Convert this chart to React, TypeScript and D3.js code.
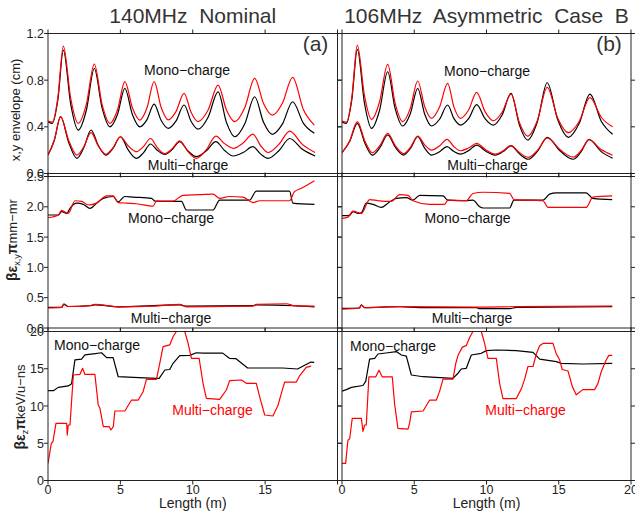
import React from 'react';
import * as d3 from 'd3';

type Pt = [number, number];

// ---------- axis ticks ----------
const lengthTicks = [0, 5, 10, 15, 20];
const envelopeTicks = [0, 0.4, 0.8, 1.2];
const transTicks = [0, 0.5, 1.0, 1.5, 2.0, 2.5];
const longTicks = [0, 5, 10, 15, 20];

const titles = ['140MHz  Nominal', '106MHz  Asymmetric  Case  B'];
const tags = ['(a)', '(b)'];

// ---------- x,y envelope (cm) vs length (m) ----------
const envMonoBlackA: Pt[] = [
  [0, 0.444], [0.3, 0.43], [0.68, 0.63], [1.06, 1.058], [1.575, 0.59], [2.09, 0.372], [2.645, 0.54], [3.2, 0.9],
  [3.74, 0.56], [4.28, 0.4], [4.8, 0.506], [5.31, 0.73], [5.83, 0.506], [6.34, 0.4], [6.84, 0.462], [7.33, 0.595],
  [7.82, 0.454], [8.3, 0.387], [8.85, 0.451], [9.4, 0.587], [9.89, 0.446], [10.37, 0.38], [11.06, 0.482], [11.75, 0.7],
  [12.33, 0.438], [12.9, 0.315], [13.59, 0.425], [14.28, 0.658], [14.89, 0.439], [15.5, 0.336], [16.2, 0.425],
  [16.9, 0.615], [17.65, 0.43], [18.4, 0.344],
];
const envMonoRedA: Pt[] = [
  [0, 0.45], [0.3, 0.44], [0.68, 0.65], [1.06, 1.092], [1.575, 0.64], [2.09, 0.43], [2.645, 0.59], [3.2, 0.938],
  [3.74, 0.59], [4.28, 0.43], [4.8, 0.544], [5.31, 0.787], [5.83, 0.563], [6.34, 0.458], [6.84, 0.563], [7.33, 0.787],
  [7.82, 0.565], [8.3, 0.46], [8.85, 0.533], [9.4, 0.687], [9.89, 0.522], [10.37, 0.444], [11.06, 0.544], [11.75, 0.758],
  [12.33, 0.544], [12.9, 0.444], [13.59, 0.563], [14.28, 0.815], [14.89, 0.6], [15.5, 0.5], [16.2, 0.604],
  [16.9, 0.824], [17.65, 0.546], [18.4, 0.415],
];
const envMultiBlackA: Pt[] = [
  [0, 0.158], [0.43, 0.283], [0.87, 0.487], [1.43, 0.266], [2.0, 0.13], [2.48, 0.222], [2.97, 0.373], [3.48, 0.24],
  [4.0, 0.158], [4.5, 0.218], [5.0, 0.315], [5.55, 0.2], [6.1, 0.13], [6.59, 0.177], [7.08, 0.253], [7.57, 0.197],
  [8.07, 0.163], [8.58, 0.205], [9.1, 0.273], [9.67, 0.193], [10.25, 0.144], [10.92, 0.193], [11.6, 0.273],
  [12.2, 0.197], [12.8, 0.15], [13.48, 0.18], [14.16, 0.23], [14.68, 0.168], [15.2, 0.13], [15.95, 0.195],
  [16.7, 0.3], [17.57, 0.207], [18.45, 0.15],
];
const envMultiRedA: Pt[] = [
  [0, 0.158], [0.43, 0.283], [0.87, 0.487], [1.43, 0.283], [2.0, 0.158], [2.48, 0.231], [2.97, 0.35], [3.48, 0.235],
  [4.0, 0.165], [4.5, 0.222], [5.0, 0.315], [5.55, 0.236], [6.1, 0.187], [6.59, 0.23], [7.08, 0.3], [7.57, 0.219],
  [8.07, 0.17], [8.58, 0.212], [9.1, 0.28], [9.67, 0.187], [10.25, 0.13], [10.92, 0.202], [11.6, 0.32],
  [12.2, 0.256], [12.8, 0.216], [13.48, 0.262], [14.16, 0.338], [14.68, 0.24], [15.2, 0.18], [15.95, 0.25],
  [16.7, 0.364], [17.57, 0.25], [18.45, 0.18],
];
const envMonoBlackB: Pt[] = [
  [0, 0.444], [0.3, 0.43], [0.68, 0.633], [1.06, 1.064], [1.555, 0.604], [2.05, 0.387], [2.6, 0.542], [3.16, 0.872],
  [3.68, 0.556], [4.2, 0.407], [4.72, 0.51], [5.24, 0.73], [5.72, 0.51], [6.2, 0.407], [6.75, 0.465], [7.31, 0.587],
  [7.75, 0.47], [8.2, 0.415], [8.76, 0.47], [9.32, 0.59], [9.9, 0.471], [10.47, 0.415], [11.08, 0.502], [11.7, 0.687],
  [12.28, 0.415], [12.85, 0.287], [13.52, 0.444], [14.2, 0.778], [14.93, 0.46], [15.67, 0.31], [16.41, 0.428],
  [17.16, 0.68], [17.95, 0.446], [18.73, 0.336],
];
const envMonoRedB: Pt[] = [
  [0, 0.45], [0.3, 0.44], [0.68, 0.651], [1.06, 1.1], [1.555, 0.667], [2.05, 0.464], [2.6, 0.615], [3.16, 0.936],
  [3.68, 0.601], [4.2, 0.444], [4.72, 0.556], [5.24, 0.793], [5.72, 0.575], [6.2, 0.473], [6.75, 0.569], [7.31, 0.773],
  [7.75, 0.569], [8.2, 0.473], [8.76, 0.544], [9.32, 0.696], [9.9, 0.53], [10.47, 0.452], [11.08, 0.525], [11.7, 0.68],
  [12.28, 0.435], [12.85, 0.32], [13.52, 0.454], [14.2, 0.738], [14.93, 0.474], [15.67, 0.35], [16.41, 0.446],
  [17.16, 0.65], [17.95, 0.48], [18.73, 0.4],
];
const envMultiBlackB: Pt[] = [
  [0, 0.178], [0.53, 0.274], [1.06, 0.43], [1.58, 0.261], [2.1, 0.158], [2.63, 0.223], [3.16, 0.33], [3.7, 0.223],
  [4.25, 0.158], [4.75, 0.218], [5.24, 0.315], [5.72, 0.218], [6.2, 0.158], [6.73, 0.185], [7.27, 0.23], [7.73, 0.19],
  [8.2, 0.166], [8.76, 0.196], [9.32, 0.244], [9.96, 0.191], [10.6, 0.158], [11.15, 0.188], [11.7, 0.237],
  [12.3, 0.166], [12.9, 0.122], [13.55, 0.193], [14.2, 0.31], [15.1, 0.193], [16.0, 0.122], [16.55, 0.187],
  [17.1, 0.293], [17.9, 0.192], [18.73, 0.13],
];
const envMultiRedB: Pt[] = [
  [0, 0.178], [0.53, 0.279], [1.06, 0.444], [1.58, 0.279], [2.1, 0.178], [2.63, 0.241], [3.16, 0.344], [3.7, 0.236],
  [4.25, 0.17], [4.75, 0.227], [5.24, 0.32], [5.72, 0.246], [6.2, 0.2], [6.73, 0.235], [7.27, 0.293], [7.73, 0.232],
  [8.2, 0.195], [8.76, 0.219], [9.32, 0.258], [9.96, 0.201], [10.6, 0.166], [11.15, 0.194], [11.7, 0.24],
  [12.3, 0.177], [12.9, 0.139], [13.55, 0.202], [14.2, 0.305], [15.1, 0.203], [16.0, 0.14], [16.55, 0.197],
  [17.1, 0.29], [17.9, 0.207], [18.73, 0.156],
];

// ---------- transverse emittance (pi mm-mr) ----------
const transMonoBlackA: Pt[] = [
  [0, 1.865], [0.71, 1.865], [0.94, 1.92], [1.29, 1.89], [1.52, 1.975], [1.98, 2.06], [2.44, 2.04], [2.9, 1.975],
  [3.36, 2.06], [3.82, 2.14], [4.5, 2.17], [4.85, 2.08], [5.3, 2.17], [5.89, 2.16], [7.15, 2.14], [7.38, 2.095],
  [8.53, 2.09], [9.22, 2.09], [9.56, 1.947], [11.4, 1.947], [11.86, 2.11], [13.93, 2.11], [14.39, 2.26],
  [16.69, 2.26], [16.92, 2.06], [18.41, 2.04],
];
const transMonoRedA: Pt[] = [
  [0, 1.82], [0.71, 1.865], [0.94, 1.94], [1.4, 1.89], [1.86, 2.1], [2.32, 2.09], [2.78, 2.03], [3.36, 2.06],
  [4.05, 2.18], [4.5, 2.18], [4.85, 2.07], [5.43, 2.06], [6.12, 2.05], [7.26, 2.01], [7.49, 2.095], [8.64, 2.095],
  [9.33, 2.19], [10.48, 2.2], [11.4, 2.21], [11.86, 2.14], [12.55, 2.17], [13.47, 2.16], [14.16, 2.07],
  [14.62, 2.1], [16.69, 2.1], [17.03, 2.25], [17.5, 2.305], [18.41, 2.43],
];
const transMultiBlackA: Pt[] = [
  [0, 0.34], [0.94, 0.34], [1.1, 0.39], [1.4, 0.355], [2.9, 0.37], [3.24, 0.38], [4.98, 0.35], [7.26, 0.37],
  [9.1, 0.38], [9.56, 0.36], [14.16, 0.37], [14.39, 0.38], [16.92, 0.37], [18.41, 0.35],
];
const transMultiRedA: Pt[] = [
  [0, 0.33], [0.94, 0.34], [1.1, 0.4], [1.4, 0.355], [2.9, 0.37], [3.24, 0.39], [4.98, 0.35], [7.26, 0.36],
  [9.1, 0.39], [9.56, 0.35], [14.16, 0.36], [14.39, 0.39], [16.5, 0.4], [16.92, 0.37], [18.41, 0.36],
];
const transMonoBlackB: Pt[] = [
  [0, 1.853], [0.53, 1.86], [0.76, 1.92], [1.11, 1.89], [1.34, 1.9], [1.68, 2.06], [2.15, 2.04], [2.72, 1.99],
  [3.18, 2.06], [3.76, 2.14], [4.45, 2.15], [4.91, 2.11], [5.38, 2.19], [6.99, 2.18], [7.33, 2.11], [8.6, 2.1],
  [9.06, 2.11], [9.53, 2.0], [9.76, 1.98], [11.6, 1.98], [11.9, 2.11], [13.9, 2.11], [14.37, 2.21], [14.83, 2.23],
  [16.9, 2.23], [17.36, 2.14], [18.7, 2.12],
];
const transMonoRedB: Pt[] = [
  [0, 1.81], [0.41, 1.83], [0.76, 1.93], [1.34, 1.89], [1.91, 2.12], [2.49, 2.1], [2.95, 2.09], [3.41, 2.09],
  [3.99, 2.2], [4.57, 2.19], [4.91, 2.1], [6.07, 2.04], [7.1, 2.04], [7.33, 2.11], [8.6, 2.1], [9.06, 2.22],
  [9.76, 2.24], [11.6, 2.22], [11.9, 2.12], [13.9, 2.1], [14.26, 1.99], [16.9, 1.99], [17.36, 2.16], [18.7, 2.18],
];
const transMultiBlackB: Pt[] = [
  [0, 0.325], [1.2, 0.33], [1.34, 0.38], [1.57, 0.336], [4.0, 0.352], [5.4, 0.336], [9.3, 0.336], [9.53, 0.32],
  [11.6, 0.32], [12.1, 0.34], [18.7, 0.352],
];
const transMultiRedB: Pt[] = [
  [0, 0.31], [1.2, 0.33], [1.34, 0.375], [1.57, 0.336], [4.0, 0.352], [9.3, 0.345], [12.1, 0.352], [18.7, 0.363],
];

// ---------- longitudinal emittance (pi keV/u-ns) ----------
const longMonoA: Pt[] = [
  [0, 12.06], [0.37, 12.06], [0.71, 12.5], [1.4, 12.7], [1.63, 13.0], [1.86, 16.2], [2.32, 16.3], [2.55, 16.85],
  [3.13, 17.0], [3.7, 17.15], [4.05, 16.5], [4.5, 16.5], [4.85, 13.93], [5.89, 13.85], [7.49, 13.7], [7.68, 13.7],
  [8.07, 14.83], [8.41, 14.9], [8.64, 15.73], [9.1, 16.75], [9.79, 16.8], [10.25, 17.15], [10.71, 17.1],
  [12.07, 17.1], [12.53, 16.4], [12.99, 16.35], [13.79, 15.1], [15.06, 15.1], [16.2, 15.1], [17.24, 14.97],
  [18.16, 15.9], [18.39, 15.85],
];
const longMultiA: Pt[] = [
  [0, 2.3], [0.23, 5.0], [0.34, 5.2], [0.55, 7.68], [1.29, 7.68], [1.33, 6.1], [1.4, 7.45], [1.52, 7.45],
  [1.75, 14.16], [2.21, 14.25], [2.39, 15.06], [2.55, 14.25], [3.24, 14.25], [3.47, 10.13], [3.59, 9.69],
  [3.82, 7.22], [4.23, 7.22], [4.35, 6.78], [4.51, 7.22], [4.62, 9.33], [5.31, 9.33], [5.77, 10.8], [6.23, 10.8],
  [6.57, 11.92], [6.8, 13.58], [7.49, 13.58], [7.72, 15.73], [7.95, 17.96], [8.41, 18.2], [8.64, 19.3], [8.87, 20],
  [9.45, 20], [9.68, 18.4], [9.91, 16.4], [10.44, 16.4], [10.71, 13.05], [10.94, 11.03], [11.86, 10.9],
  [12.32, 12.15], [12.55, 13.4], [13.36, 13.49], [13.7, 13.05], [14.39, 13.05], [14.62, 11.25], [14.97, 8.79],
  [15.54, 8.66], [15.89, 10.1], [16.12, 11.7], [16.35, 13.2], [17.15, 13.2], [17.38, 14.05], [17.84, 15.19],
  [18.18, 15.35],
];
const longMonoB: Pt[] = [
  [0, 12.0], [0.3, 12.2], [0.65, 12.5], [1.45, 12.75], [1.64, 13.3], [1.91, 16.3], [2.26, 16.4], [2.49, 16.98],
  [3.18, 17.15], [3.76, 17.3], [4.11, 16.85], [4.45, 16.7], [4.8, 14.16], [5.61, 13.93], [7.68, 13.7], [8.03, 14.4],
  [8.26, 14.97], [8.6, 15.06], [8.95, 16.85], [9.64, 17.07], [9.99, 17.43], [10.68, 17.52], [12.06, 17.43],
  [13.22, 17.2], [13.68, 16.3], [14.83, 15.95], [15.17, 15.73], [16.67, 15.64], [18.7, 15.73],
];
const longMultiB: Pt[] = [
  [0, 2.3], [0.25, 2.3], [0.41, 5.4], [0.53, 5.6], [0.71, 8.35], [1.34, 8.35], [1.45, 6.6], [1.57, 7.45],
  [1.68, 7.45], [1.86, 13.9], [2.33, 13.9], [2.56, 14.8], [2.79, 13.9], [3.48, 13.9], [3.64, 10.3], [3.87, 7.0],
  [4.57, 6.9], [4.68, 7.7], [4.8, 9.2], [5.61, 9.33], [6.07, 10.8], [6.53, 10.8], [6.76, 12.0], [6.99, 13.6],
  [7.68, 13.6], [7.87, 15.7], [8.03, 16.8], [8.33, 17.9], [8.6, 18.1], [8.83, 19.2], [9.06, 20], [9.64, 20],
  [9.87, 18.4], [10.1, 16.4], [10.68, 16.4], [10.91, 13.0], [11.14, 11.0], [12.06, 11.0], [12.41, 12.3],
  [12.64, 13.6], [12.87, 15.3], [13.22, 15.3], [13.45, 17.0], [13.68, 18.1], [13.91, 18.4], [14.6, 18.4],
  [14.83, 17.0], [15.06, 16.2], [15.24, 14.9], [15.64, 14.7], [15.94, 12.6], [16.21, 11.5], [16.67, 12.2],
  [17.48, 12.2], [17.71, 13.0], [17.94, 14.6], [18.29, 16.2], [18.47, 16.8], [18.7, 16.8],
];

const BLACK = '#000000';
const RED = '#ff0000';
const FONT = "'Liberation Sans', Arial, Helvetica, sans-serif";

type Series = { data: Pt[]; color: string };
type Note = { text: string; x: number; y: number; color: string; anchor: 'start' | 'middle' };

export default function App() {
  const W = 635;
  const H = 512;

  const cols = [
    { x0: 48, x1: 337.5 },
    { x0: 342, x1: 631 },
  ];
  const rows = [
    { y0: 33.5, y1: 173.5, max: 1.2, ticks: envelopeTicks, fmt: d3.format('.1f'), curve: d3.curveMonotoneX },
    { y0: 176.5, y1: 328, max: 2.5, ticks: transTicks, fmt: d3.format('.1f'), curve: d3.curveMonotoneX },
    { y0: 331.5, y1: 480.5, max: 20, ticks: longTicks, fmt: d3.format('d'), curve: d3.curveLinear },
  ];

  const series: Series[][][] = [
    [
      [
        { data: envMonoBlackA, color: BLACK }, { data: envMultiBlackA, color: BLACK },
        { data: envMonoRedA, color: RED }, { data: envMultiRedA, color: RED },
      ],
      [
        { data: envMonoBlackB, color: BLACK }, { data: envMultiBlackB, color: BLACK },
        { data: envMonoRedB, color: RED }, { data: envMultiRedB, color: RED },
      ],
    ],
    [
      [
        { data: transMonoBlackA, color: BLACK }, { data: transMultiBlackA, color: BLACK },
        { data: transMonoRedA, color: RED }, { data: transMultiRedA, color: RED },
      ],
      [
        { data: transMonoBlackB, color: BLACK }, { data: transMultiBlackB, color: BLACK },
        { data: transMonoRedB, color: RED }, { data: transMultiRedB, color: RED },
      ],
    ],
    [
      [{ data: longMonoA, color: BLACK }, { data: longMultiA, color: RED }],
      [{ data: longMonoB, color: BLACK }, { data: longMultiB, color: RED }],
    ],
  ];

  const notes: Note[][][] = [
    [
      [
        { text: 'Mono\u2212charge', x: 187, y: 75, color: '#111', anchor: 'middle' },
        { text: 'Multi\u2212charge', x: 188, y: 169.5, color: '#111', anchor: 'middle' },
      ],
      [
        { text: 'Mono\u2212charge', x: 487, y: 76, color: '#111', anchor: 'middle' },
        { text: 'Multi\u2212charge', x: 487.5, y: 170, color: '#111', anchor: 'middle' },
      ],
    ],
    [
      [
        { text: 'Mono\u2212charge', x: 171, y: 223, color: '#111', anchor: 'middle' },
        { text: 'Multi\u2212charge', x: 171, y: 322.5, color: '#111', anchor: 'middle' },
      ],
      [
        { text: 'Mono\u2212charge', x: 467.5, y: 222.5, color: '#111', anchor: 'middle' },
        { text: 'Multi\u2212charge', x: 472, y: 322.5, color: '#111', anchor: 'middle' },
      ],
    ],
    [
      [
        { text: 'Mono\u2212charge', x: 97, y: 350, color: '#111', anchor: 'middle' },
        { text: 'Multi\u2212charge', x: 212.5, y: 415, color: RED, anchor: 'middle' },
      ],
      [
        { text: 'Mono\u2212charge', x: 393, y: 350.5, color: '#111', anchor: 'middle' },
        { text: 'Multi\u2212charge', x: 525.5, y: 415, color: RED, anchor: 'middle' },
      ],
    ],
  ];

  const tickLen = 4;
  const axisColor = '#222';

  return (
    <svg
      width={W}
      height={H}
      viewBox={`0 0 ${W} ${H}`}
      style={{ position: 'absolute', left: 0, top: 0, background: '#fff' }}
      fontFamily={FONT}
    >
      <rect x={0} y={0} width={W} height={H} fill="#fff" />
      <defs>
        {cols.map((c, ci) =>
          rows.map((r, ri) => (
            <clipPath id={`clip-${ci}-${ri}`} key={`cp-${ci}-${ri}`}>
              <rect x={c.x0} y={r.y0} width={c.x1 - c.x0} height={r.y1 - r.y0} />
            </clipPath>
          ))
        )}
      </defs>

      {cols.map((c, ci) => {
        const x = d3.scaleLinear().domain([0, 20]).range([c.x0, c.x1]);
        return (
          <g key={`col-${ci}`}>
            {/* column title and panel tag */}
            <text
              x={(c.x0 + c.x1) / 2}
              y={23}
              textAnchor="middle"
              fontSize={21}
              fill="#333"
              style={{ whiteSpace: 'pre' }}
            >
              {titles[ci]}
            </text>
            <text x={c.x1 - 22} y={51} textAnchor="middle" fontSize={21} fill="#333">
              {tags[ci]}
            </text>

            {rows.map((r, ri) => {
              const y = d3.scaleLinear().domain([0, r.max]).range([r.y1, r.y0]);
              const line = d3
                .line<Pt>()
                .x((d) => x(d[0]))
                .y((d) => y(d[1]))
                .curve(r.curve);
              return (
                <g key={`panel-${ci}-${ri}`}>
                  <g clipPath={`url(#clip-${ci}-${ri})`}>
                    {series[ri][ci].map((s, si) => (
                      <path
                        key={si}
                        d={line(s.data) || ''}
                        fill="none"
                        stroke={s.color}
                        strokeWidth={1.2}
                        strokeLinejoin="round"
                      />
                    ))}
                  </g>

                  {/* frame */}
                  <rect
                    x={c.x0}
                    y={r.y0}
                    width={c.x1 - c.x0}
                    height={r.y1 - r.y0}
                    fill="none"
                    stroke={axisColor}
                    strokeWidth={1}
                  />

                  {/* x ticks, top and bottom, outward */}
                  {lengthTicks.map((t) => (
                    <g key={`xt-${t}`} stroke={axisColor} strokeWidth={1}>
                      <line x1={x(t)} x2={x(t)} y1={r.y0} y2={r.y0 - tickLen} />
                      <line x1={x(t)} x2={x(t)} y1={r.y1} y2={r.y1 + tickLen} />
                    </g>
                  ))}

                  {/* y ticks, left and right, outward */}
                  {r.ticks.map((t) => (
                    <g key={`yt-${t}`} stroke={axisColor} strokeWidth={1}>
                      <line x1={c.x0} x2={c.x0 - tickLen} y1={y(t)} y2={y(t)} />
                      <line x1={c.x1} x2={c.x1 + tickLen} y1={y(t)} y2={y(t)} />
                    </g>
                  ))}

                  {/* y tick labels on the left column only */}
                  {ci === 0 &&
                    r.ticks.map((t) => (
                      <text
                        key={`yl-${t}`}
                        x={c.x0 - 4}
                        y={y(t) + 4.5}
                        textAnchor="end"
                        fontSize={12.5}
                        fill="#222"
                      >
                        {r.fmt(t)}
                      </text>
                    ))}

                  {/* x tick labels on the bottom row */}
                  {ri === 2 &&
                    lengthTicks
                      .filter((t) => ci === 1 || t < 20)
                      .map((t) => (
                        <text
                          key={`xl-${t}`}
                          x={x(t)}
                          y={r.y1 + 13}
                          textAnchor="middle"
                          fontSize={12.5}
                          fill="#222"
                        >
                          {t}
                        </text>
                      ))}

                  {notes[ri][ci].map((n, ni) => (
                    <text
                      key={`n-${ni}`}
                      x={n.x}
                      y={n.y}
                      textAnchor={n.anchor}
                      fontSize={14}
                      fill={n.color}
                    >
                      {n.text}
                    </text>
                  ))}
                </g>
              );
            })}

            <text x={(c.x0 + c.x1) / 2} y={508} textAnchor="middle" fontSize={14} fill="#222">
              Length (m)
            </text>
          </g>
        );
      })}

      {/* y axis titles */}
      <text transform="translate(20,110) rotate(-90)" textAnchor="middle" fontSize={13} fill="#222">
        x,y envelope (cm)
      </text>
      <text transform="translate(17,240) rotate(-90)" textAnchor="middle" fontSize={13} fill="#222">
        <tspan fontWeight="bold" fontSize={14}>{'\u03B2\u03B5'}</tspan>
        <tspan fontSize={9} dy={3}>x,y</tspan>
        <tspan fontWeight="bold" fontSize={14} dy={-3}>{'\u03C0'}</tspan>
        <tspan>{'mm\u2212mr'}</tspan>
      </text>
      <text transform="translate(25,407) rotate(-90)" textAnchor="middle" fontSize={13} fill="#222">
        <tspan fontWeight="bold" fontSize={14}>{'\u03B2\u03B5'}</tspan>
        <tspan fontSize={9} dy={3}>z</tspan>
        <tspan fontWeight="bold" fontSize={14} dy={-3}>{'\u03C0'}</tspan>
        <tspan>{'keV/u\u2212ns'}</tspan>
      </text>
    </svg>
  );
}
